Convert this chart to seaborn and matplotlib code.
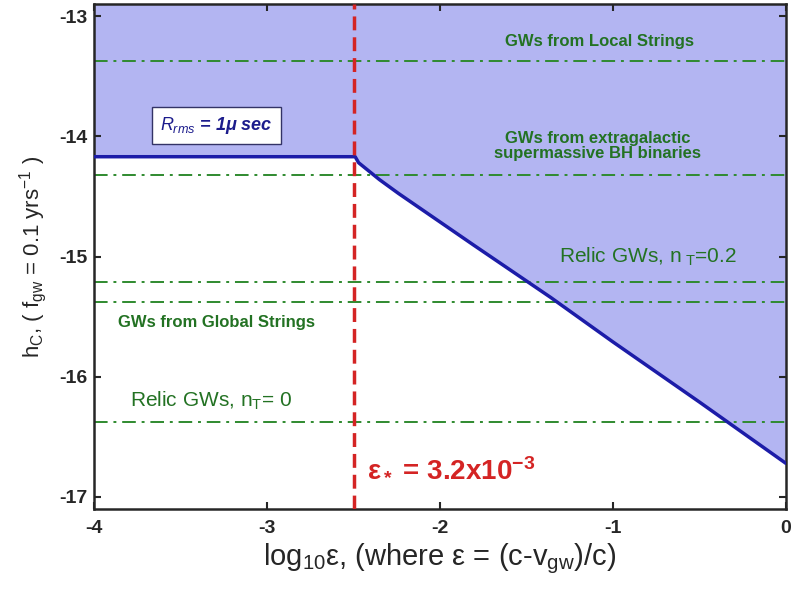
import matplotlib
matplotlib.use("Agg")
import matplotlib.pyplot as plt
import seaborn as sns
import pandas as pd

# timing-residual bound (blue curve)
curve_x = [-4.0, -2.49, -2.47, -2.35, -2.24, -1.8, -1.36, -1.0, -0.5, 0.0]
curve_y = [-14.17, -14.17, -14.22, -14.36, -14.475, -14.91, -15.34, -15.71, -16.21, -16.72]

# epsilon_* (red dashed line)
eps_star = -2.495

# green dash-dot source levels
source_levels = [-13.37, -14.325, -15.21, -15.375, -16.375]

# annotations: (text, x, y, size, weight)
source_labels = [
    ("GWs from Local Strings", -1.08, -13.21, 12, "bold"),
    ("GWs from extragalactic\nsupermassive BH binaries", -1.09, -14.08, 12, "bold"),
    (r"Relic GWs, n$_{\ T}$=0.2", -0.8, -15.0, 15, "normal"),
    ("GWs from Global Strings", -3.29, -15.55, 12, "bold"),
    (r"Relic GWs, n$_T$= 0", -3.32, -16.2, 15, "normal"),
]

sns.set_style("ticks")
plt.rcParams["font.family"] = ["Liberation Sans", "DejaVu Sans"]
plt.rcParams["mathtext.fontset"] = "custom"
plt.rcParams["mathtext.rm"] = "Liberation Sans"
plt.rcParams["mathtext.it"] = "Liberation Sans:italic"
plt.rcParams["mathtext.bf"] = "Liberation Sans:bold"
plt.rcParams["mathtext.default"] = "regular"

fig = plt.figure(figsize=(7.93, 5.98), dpi=100)
ax = fig.add_axes([0.1185, 0.1488, 0.8725, 0.8445])

df = pd.DataFrame({"x": curve_x, "y": curve_y})
ax.fill_between(df["x"], df["y"], -12.9, color="#b3b5f2", zorder=0, linewidth=0)

for lvl in source_levels:
    ax.axhline(lvl, color="#2f8a2f", linestyle=(0, (7, 3, 1.5, 3)), linewidth=1.4, zorder=2)

sns.lineplot(data=df, x="x", y="y", sort=False, color="#1c1ca8", linewidth=2.5, ax=ax, zorder=3)
ax.axvline(eps_star, color="#d42424", linestyle=(0, (4, 2)), linewidth=2.5, zorder=4)

for txt, x, y, size, weight in source_labels:
    ax.text(x, y, txt, color="#237223", fontsize=size, fontweight=weight,
            ha="center", va="center", linespacing=1.0, zorder=5)

ax.text(-3.29, -13.91, r"$\mathit{R_{rms}}$ = 1$\mu$ sec", color="#1c1c8c", fontsize=13,
        fontweight="bold", fontstyle="italic", ha="center", va="center", zorder=5,
        bbox=dict(boxstyle="square,pad=0.45", facecolor="white", edgecolor="#333366", linewidth=1))

ax.text(-2.42, -16.77, r"ε$_*$ = 3.2x10$^{-3}$", color="#d42424", fontsize=20,
        fontweight="bold", ha="left", va="center", zorder=5)

ax.set_xlim(-4, 0)
ax.set_ylim(-17.1, -12.9)
ax.set_xticks([-4, -3, -2, -1, 0])
ax.set_yticks([-17, -16, -15, -14, -13])
ax.set_xticklabels(["-4", "-3", "-2", "-1", "0"], fontweight="bold", fontsize=14)
ax.set_yticklabels(["-17", "-16", "-15", "-14", "-13"], fontweight="bold", fontsize=14)
ax.tick_params(direction="in", top=True, right=True, length=5, width=1.5, pad=5)
ax.tick_params(axis="x", pad=8)
for sp in ax.spines.values():
    sp.set_linewidth(1.8)

ax.set_xlabel(r"log$_{10}$ε, (where ε = (c-v$_{gw}$)/c)", fontsize=21, labelpad=3)
ax.set_ylabel(r"h$_C$, ( f$_{gw}$ = 0.1 yrs$^{-1}$ )", fontsize=16, labelpad=7)

plt.savefig("out.png", dpi=100)
plt.close()
